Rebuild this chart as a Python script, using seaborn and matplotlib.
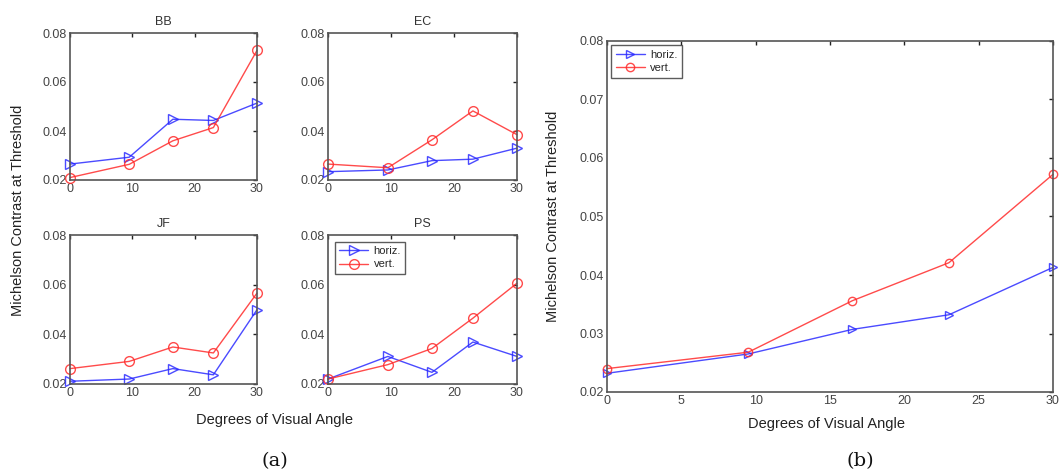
import pandas as pd
import matplotlib
matplotlib.use("Agg")
import matplotlib.pyplot as plt
import seaborn as sns

# data
angles = [0, 9.5, 16.5, 23, 30]

bb_horiz = [0.0265, 0.0293, 0.0448, 0.0443, 0.0514]
bb_vert = [0.0210, 0.0264, 0.0360, 0.0414, 0.0729]
ec_horiz = [0.0234, 0.0241, 0.0279, 0.0285, 0.0330]
ec_vert = [0.0265, 0.0250, 0.0364, 0.0482, 0.0385]
jf_horiz = [0.0211, 0.0220, 0.0262, 0.0237, 0.0499]
jf_vert = [0.0262, 0.0291, 0.0349, 0.0325, 0.0566]
ps_horiz = [0.0220, 0.0311, 0.0247, 0.0369, 0.0311]
ps_vert = [0.0220, 0.0278, 0.0343, 0.0465, 0.0606]
avg_horiz = [0.0232, 0.0265, 0.0307, 0.0332, 0.0413]
avg_vert = [0.0240, 0.0268, 0.0356, 0.0421, 0.0572]

subjects = ["BB", "EC", "JF", "PS"]
horiz_sets = [bb_horiz, ec_horiz, jf_horiz, ps_horiz]
vert_sets = [bb_vert, ec_vert, jf_vert, ps_vert]

sns.set_style("white")
plt.rcParams['font.family'] = ['Liberation Sans', 'DejaVu Sans']

W, H = 1061, 476
fig = plt.figure(figsize=(W / 100, H / 100), dpi=100)

pal = {'horiz.': '#2b2bff', 'vert.': '#ff2b2b'}
marks = {'horiz.': '>', 'vert.': 'o'}
frame_col = '#555555'
tick_col = '#444444'


def px_axes(x0, y0, x1, y1):
    # pixel box -> figure fraction
    return fig.add_axes([x0 / W, 1 - y1 / H, (x1 - x0) / W, (y1 - y0) / H])


def draw(ax, horiz, vert, msize):
    df = pd.DataFrame({
        'angle': angles * 2,
        'contrast': horiz + vert,
        'orient': ['horiz.'] * 5 + ['vert.'] * 5,
    })
    sns.lineplot(data=df, x='angle', y='contrast', hue='orient', style='orient',
                 hue_order=['horiz.', 'vert.'], palette=pal, markers=marks,
                 dashes=False, legend=False, ax=ax, linewidth=1.0,
                 markersize=msize, alpha=0.85)
    for ln in ax.lines:
        c = ln.get_color()
        ln.set_markerfacecolor('none')
        ln.set_markeredgecolor(c)
        ln.set_markeredgewidth(1.0)
        ln.set_clip_on(False)
    ax.set_xlim(0, 30)
    ax.set_ylim(0.02, 0.08)
    ax.set_xlabel('')
    ax.set_ylabel('')
    for s in ax.spines.values():
        s.set_color(frame_col)
        s.set_linewidth(1.2)
    ax.tick_params(direction='in', top=True, right=True, length=3,
                   width=1, color='#222222', labelsize=9, labelcolor=tick_col,
                   pad=2)


def add_legend(ax, pad):
    ax.legend(ax.lines[:2], ['horiz.', 'vert.'], loc='upper left',
              fontsize=8, frameon=True, fancybox=False, edgecolor='#333333',
              handlelength=2.6, borderpad=0.4, labelspacing=0.3,
              handletextpad=0.5, borderaxespad=pad)


boxes = [(70, 33, 257, 180), (328, 33, 517, 180),
         (70, 235, 257, 384), (328, 235, 517, 384)]
for name, box, hz, vt in zip(subjects, boxes, horiz_sets, vert_sets):
    ax = px_axes(*box)
    draw(ax, hz, vt, 7)
    ax.set_xticks([0, 10, 20, 30])
    ax.set_yticks([0.02, 0.04, 0.06, 0.08])
    ax.set_yticklabels(['0.02', '0.04', '0.06', '0.08'])
    ax.set_title(name, fontsize=9, color='#333333', pad=6)
    if name == 'PS':
        add_legend(ax, 0.6)

axb = px_axes(607, 41, 1053, 392)
draw(axb, avg_horiz, avg_vert, 6)
axb.set_xticks([0, 5, 10, 15, 20, 25, 30])
axb.set_yticks([0.02, 0.03, 0.04, 0.05, 0.06, 0.07, 0.08])
axb.set_yticklabels(['0.02', '0.03', '0.04', '0.05', '0.06', '0.07', '0.08'])
add_legend(axb, 0.4)

# shared labels
fig.text(18 / W, 1 - 210 / H, 'Michelson Contrast at Threshold', rotation=90,
         ha='center', va='center', fontsize=10.5, color='#222222')
fig.text(275 / W, 1 - 420 / H, 'Degrees of Visual Angle', ha='center',
         va='center', fontsize=10.5, color='#222222')
fig.text(553 / W, 1 - 216 / H, 'Michelson Contrast at Threshold', rotation=90,
         ha='center', va='center', fontsize=10.5, color='#222222')
fig.text(827 / W, 1 - 424 / H, 'Degrees of Visual Angle', ha='center',
         va='center', fontsize=10.5, color='#222222')
fig.text(275 / W, 1 - 461 / H, '(a)', ha='center', va='center', fontsize=14,
         family='DejaVu Serif', color='#111111')
fig.text(860 / W, 1 - 461 / H, '(b)', ha='center', va='center', fontsize=14,
         family='DejaVu Serif', color='#111111')

fig.savefig('out.png', dpi=100)
